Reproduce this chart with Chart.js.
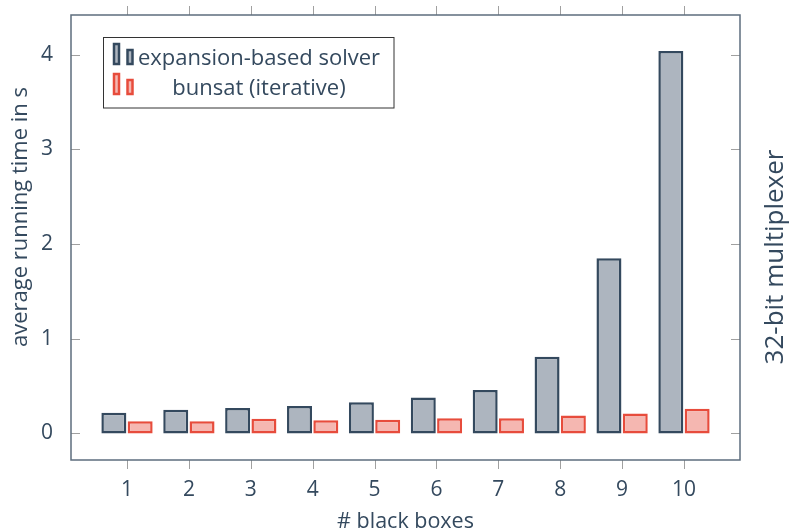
<!DOCTYPE html>
<html>
<head>
<meta charset="utf-8">
<script src="https://cdn.jsdelivr.net/npm/chart.js@4.4.1/dist/chart.umd.min.js"></script>
<style>
html,body{margin:0;padding:0;background:#fff;}
</style>
</head>
<body>
<canvas id="grafico" width="794" height="532"></canvas>
<script>
// datos
const cajas = [1,2,3,4,5,6,7,8,9,10];
const expansion = [0.22,0.25,0.27,0.29,0.33,0.38,0.46,0.81,1.85,4.04];
const bunsat = [0.13,0.13,0.155,0.14,0.145,0.16,0.16,0.19,0.21,0.26];
const ticksY = [0,1,2,3,4];
const ticksX = cajas;
const etiquetas = ["expansion-based solver","bunsat (iterative)"];

const fuente = "'Open Sans', sans-serif";
const tinta = "#34495e";

const colores = {
    gris:{fondo:"#adb5bf",borde:"#34495e"},
    rojo:{fondo:"#f5b7b1",borde:"#e74c3c"}
};

function linea(ctx,x1,y1,x2,y2){
    ctx.beginPath();
    ctx.moveTo(x1,y1);
    ctx.lineTo(x2,y2);
    ctx.stroke();
}

// marco, marcas, titulos y leyenda
const marco = {
    id:"marco",
    afterDraw(chart){
        const ctx = chart.ctx;
        const a = chart.chartArea;
        const sx = chart.scales.x;
        const sy = chart.scales.y;

        ctx.save();

        ctx.strokeStyle = "#a0a0a0";
        ctx.lineWidth = 1;
        ticksY.forEach(v=>{
            const py = Math.round(sy.getPixelForValue(v)) + 0.5;
            linea(ctx,a.left,py,a.left+9,py);
            linea(ctx,a.right-9,py,a.right,py);
        });
        ticksX.forEach(v=>{
            const px = Math.round(sx.getPixelForValue(v)) + 0.5;
            linea(ctx,px,a.bottom,px,a.bottom+9);
            linea(ctx,px,a.top-9,px,a.top);
        });

        ctx.strokeStyle = "#5d6d7e";
        ctx.lineWidth = 1.5;
        ctx.strokeRect(a.left,a.top,a.right-a.left,a.bottom-a.top);

        // titulos
        ctx.fillStyle = tinta;
        ctx.textAlign = "center";
        ctx.textBaseline = "alphabetic";
        ctx.font = "21.5px " + fuente;
        ctx.fillText("# black boxes",(a.left+a.right)/2,528);

        ctx.save();
        ctx.translate(21,217);
        ctx.rotate(-Math.PI/2);
        ctx.textBaseline = "middle";
        ctx.font = "22px " + fuente;
        ctx.fillText("average running time in s",0,0);
        ctx.restore();

        ctx.save();
        ctx.translate(776,257);
        ctx.rotate(-Math.PI/2);
        ctx.textBaseline = "middle";
        ctx.font = "26px " + fuente;
        ctx.fillText("32-bit multiplexer",0,0);
        ctx.restore();

        // leyenda
        ctx.fillStyle = "#fff";
        ctx.fillRect(103.5,37.5,290.5,70.5);
        ctx.strokeStyle = "#333";
        ctx.lineWidth = 1;
        ctx.strokeRect(103.5,37.5,290.5,70.5);

        const filas = [
            {c:colores.gris, y:65},
            {c:colores.rojo, y:95}
        ];
        filas.forEach((f,i)=>{
            ctx.fillStyle = f.c.fondo;
            ctx.strokeStyle = f.c.borde;
            ctx.lineWidth = 2.5;
            ctx.fillRect(114,f.y-21,5,20);
            ctx.strokeRect(114,f.y-21,5,20);
            ctx.fillRect(127.5,f.y-15,5,14);
            ctx.strokeRect(127.5,f.y-15,5,14);

            ctx.fillStyle = tinta;
            ctx.textAlign = "center";
            ctx.textBaseline = "alphabetic";
            ctx.font = "22px " + fuente;
            ctx.fillText(etiquetas[i],259,f.y);
        });

        ctx.restore();
    }
};

const grafico = new Chart(document.getElementById("grafico"),{

    type:"bar",

    data:{
        labels:cajas,
        datasets:[
            {
                label:etiquetas[0],
                data:expansion,
                backgroundColor:colores.gris.fondo,
                borderColor:colores.gris.borde,
                borderWidth:2.5,
                borderSkipped:false
            },
            {
                label:etiquetas[1],
                data:bunsat,
                backgroundColor:colores.rojo.fondo,
                borderColor:colores.rojo.borde,
                borderWidth:2.5,
                borderSkipped:false
            }
        ]
    },

    options:{
        responsive:false,
        animation:false,
        devicePixelRatio:1,
        categoryPercentage:0.85,
        barPercentage:0.95,
        layout:{padding:{left:0,top:15,right:54,bottom:0}},
        plugins:{
            legend:{display:false},
            tooltip:{enabled:false}
        },
        scales:{
            x:{
                type:"linear",
                min:0.095,
                max:10.905,
                offset:false,
                grid:{display:false},
                border:{display:false},
                afterBuildTicks:s=>{ s.ticks = ticksX.map(v=>({value:v})); },
                afterFit:s=>{ s.height = 72; s.paddingLeft = 0; s.paddingRight = 0; },
                ticks:{
                    color:tinta,
                    font:{family:fuente,size:21},
                    padding:9,
                    maxRotation:0
                }
            },
            y:{
                min:-0.28,
                max:4.42,
                grid:{display:false},
                border:{display:false},
                afterBuildTicks:s=>{ s.ticks = ticksY.map(v=>({value:v})); },
                afterFit:s=>{ s.width = 71; s.paddingTop = 0; s.paddingBottom = 0; },
                ticks:{
                    color:tinta,
                    font:{family:fuente,size:21},
                    padding:10
                }
            }
        }
    },

    plugins:[marco]
});
</script>
</body>
</html>
